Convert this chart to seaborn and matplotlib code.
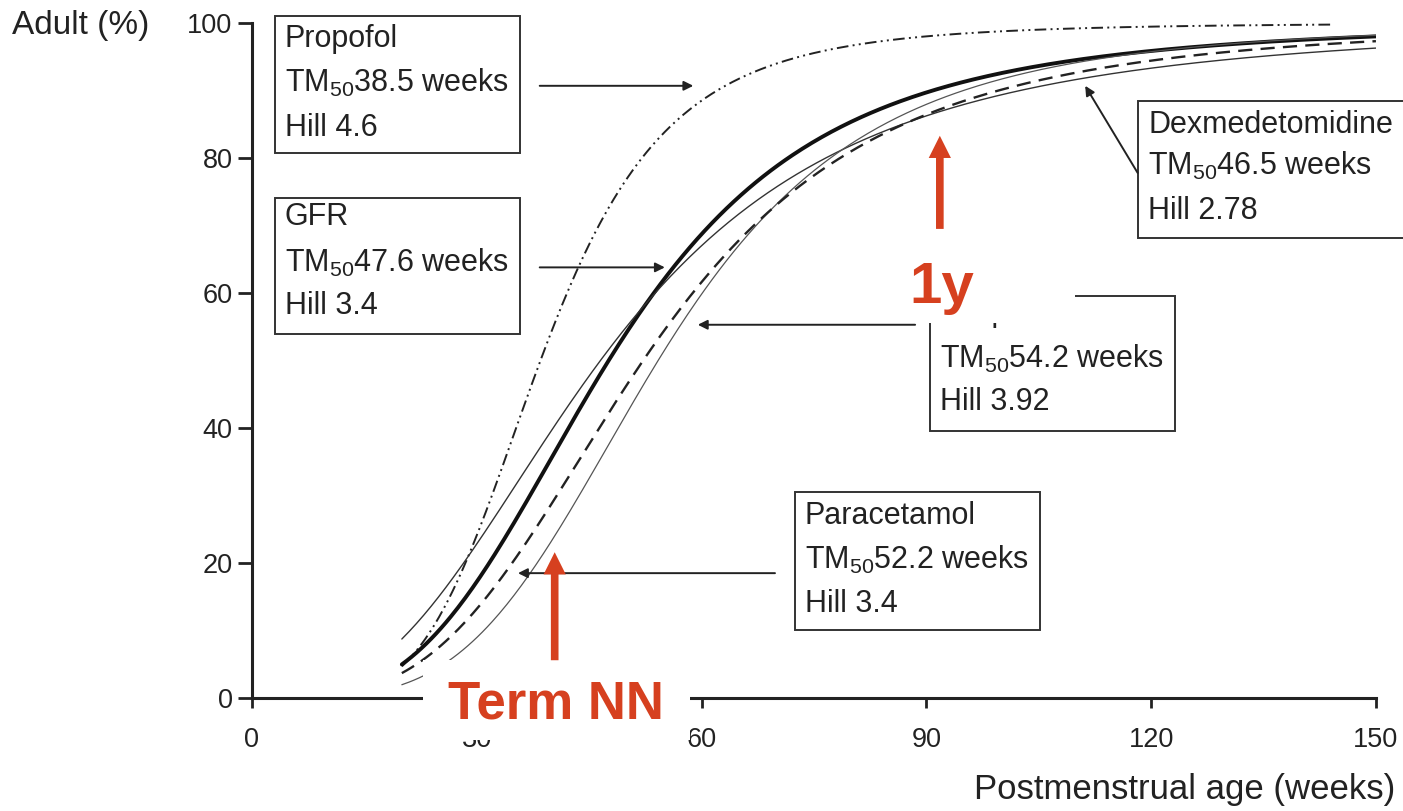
import numpy as np
import pandas as pd
import matplotlib
matplotlib.use("Agg")
import matplotlib.pyplot as plt
from matplotlib.patches import Rectangle
import seaborn as sns

# Maturation models: sigmoid Hill curves (percent of adult value vs postmenstrual age)
drugs = ["Propofol", "GFR", "Dexmedetomidine", "Morphine", "Paracetamol"]
tm50 = [38.5, 47.6, 46.5, 54.2, 52.2]
hill = [4.6, 3.4, 2.78, 3.92, 3.4]
age_start = [20, 20, 20, 20, 20]
age_end = [144, 150, 150, 150, 150]

x_ticks = [0, 30, 60, 90, 120, 150]
y_ticks = [0, 20, 40, 60, 80, 100]

rows = []
for name, t, h, a0, a1 in zip(drugs, tm50, hill, age_start, age_end):
    age = np.linspace(a0, a1, 400)
    pct = 100 * age ** h / (t ** h + age ** h)
    rows.append(pd.DataFrame({"drug": name, "age": age, "pct": pct}))
df = pd.concat(rows, ignore_index=True)

sns.set_theme(style="ticks")
plt.rcParams["font.family"] = ["Liberation Sans", "DejaVu Sans"]
plt.rcParams["mathtext.fontset"] = "custom"
plt.rcParams["mathtext.rm"] = "Liberation Sans"
plt.rcParams["mathtext.default"] = "regular"

fig = plt.figure(figsize=(14.03, 8.11), dpi=100)
ax = fig.add_axes([0.1796, 0.1393, 0.8011, 0.8323])

styles = {
    "Propofol": dict(color="#222222", lw=1.4, linestyle=(0, (6, 2.2, 1, 2.2, 1, 2.2))),
    "GFR": dict(color="#111111", lw=2.8, linestyle="-"),
    "Dexmedetomidine": dict(color="#333333", lw=1.0, linestyle="-"),
    "Morphine": dict(color="#555555", lw=0.9, linestyle="-"),
    "Paracetamol": dict(color="#222222", lw=1.7, linestyle=(0, (6, 3.5))),
}
for name in drugs:
    st = styles[name]
    sns.lineplot(data=df[df["drug"] == name], x="age", y="pct", ax=ax,
                 estimator=None, sort=False, legend=False, **st)

ax.set_xlim(0, 150)
ax.set_ylim(0, 100)
ax.set_xticks(x_ticks)
ax.set_yticks(y_ticks)
ax.set_xticklabels([str(v) for v in x_ticks])
ax.set_yticklabels([str(v) for v in y_ticks])
sns.despine(ax=ax)
for s in ("left", "bottom"):
    ax.spines[s].set_linewidth(2.2)
    ax.spines[s].set_color("#222222")
ax.tick_params(axis="y", length=10, width=2, pad=4, labelsize=19.5, colors="#222222")
ax.tick_params(axis="x", length=7, width=2, pad=14, labelsize=19.5, colors="#222222")

ax.set_ylabel("Adult (%)", rotation=0, ha="left", va="center", fontsize=24, color="#222222")
ax.yaxis.set_label_coords(-0.2135, 0.997)
ax.set_xlabel("Postmenstrual age (weeks)", ha="right", va="center", fontsize=25, color="#222222")
ax.xaxis.set_label_coords(1.017, -0.136)

# Parameter boxes: (x0, y0, x1, y1, text x, line y positions, lines)
boxes = [
    (3.07, 80.8, 35.77, 101.0, 4.4, [97.6, 91.1, 84.5],
     ["Propofol", "TM$_{50}$38.5 weeks", "Hill 4.6"]),
    (3.07, 54.0, 35.77, 74.1, 4.4, [71.2, 64.5, 58.1],
     ["GFR", "TM$_{50}$47.6 weeks", "Hill 3.4"]),
    (90.5, 39.6, 123.2, 59.6, 91.8, [57.0, 50.3, 43.8],
     ["Morphine", "TM$_{50}$54.2 weeks", "Hill 3.92"]),
    (72.5, 10.1, 105.2, 30.5, 73.8, [26.9, 20.4, 13.9],
     ["Paracetamol", "TM$_{50}$52.2 weeks", "Hill 3.4"]),
    (118.2, 68.2, 156.0, 88.5, 119.6, [84.9, 78.8, 72.2],
     ["Dexmedetomidine", "TM$_{50}$46.5 weeks", "Hill 2.78"]),
]
for x0, y0, x1, y1, tx, ly, lines in boxes:
    ax.add_patch(Rectangle((x0, y0), x1 - x0, y1 - y0, facecolor="white",
                           edgecolor="#333333", lw=1.4, zorder=4, clip_on=False))
    for yy, txt in zip(ly, lines):
        ax.text(tx, yy, txt, fontsize=22, color="#222222", ha="left", va="center",
                zorder=5, clip_on=False)

# Pointer arrows from boxes to curves: (tail, tip)
pointers = [
    ((38.4, 90.7), (58.9, 90.7)),
    ((38.4, 63.8), (55.1, 63.8)),
    ((88.5, 55.3), (59.5, 55.3)),
    ((69.8, 18.5), (35.5, 18.5)),
    ((118.2, 77.8), (111.2, 90.7)),
]
for tail, tip in pointers:
    ax.annotate("", xy=tip, xytext=tail, zorder=6,
                arrowprops=dict(arrowstyle="-|>", color="#222222", lw=1.4,
                                mutation_scale=14, shrinkA=0, shrinkB=0))

red = "#D6401F"
# Age markers with white backing
ax.add_patch(Rectangle((22.8, -6.2), 35.7, 11.8, facecolor="white", edgecolor="none",
                       zorder=7, clip_on=False))
ax.add_patch(Rectangle((83.8, 55.6), 26.0, 13.0, facecolor="white", edgecolor="none",
                       zorder=7, clip_on=False))
ax.text(40.6, -1.0, "Term NN", fontsize=38, fontweight="bold", color=red,
        ha="center", va="center", zorder=8, clip_on=False)
ax.text(92.1, 60.8, "1y", fontsize=42, fontweight="bold", color=red,
        ha="center", va="center", zorder=8, clip_on=False)
for x, y0, y1 in [(40.4, 5.6, 21.6), (91.8, 69.5, 83.3)]:
    ax.annotate("", xy=(x, y1), xytext=(x, y0), zorder=9,
                arrowprops=dict(arrowstyle="simple,head_width=1.6,head_length=1.6,tail_width=0.55",
                                color=red, lw=0, mutation_scale=10, shrinkA=0, shrinkB=0))

fig.savefig("out.png", dpi=100, facecolor="white")
